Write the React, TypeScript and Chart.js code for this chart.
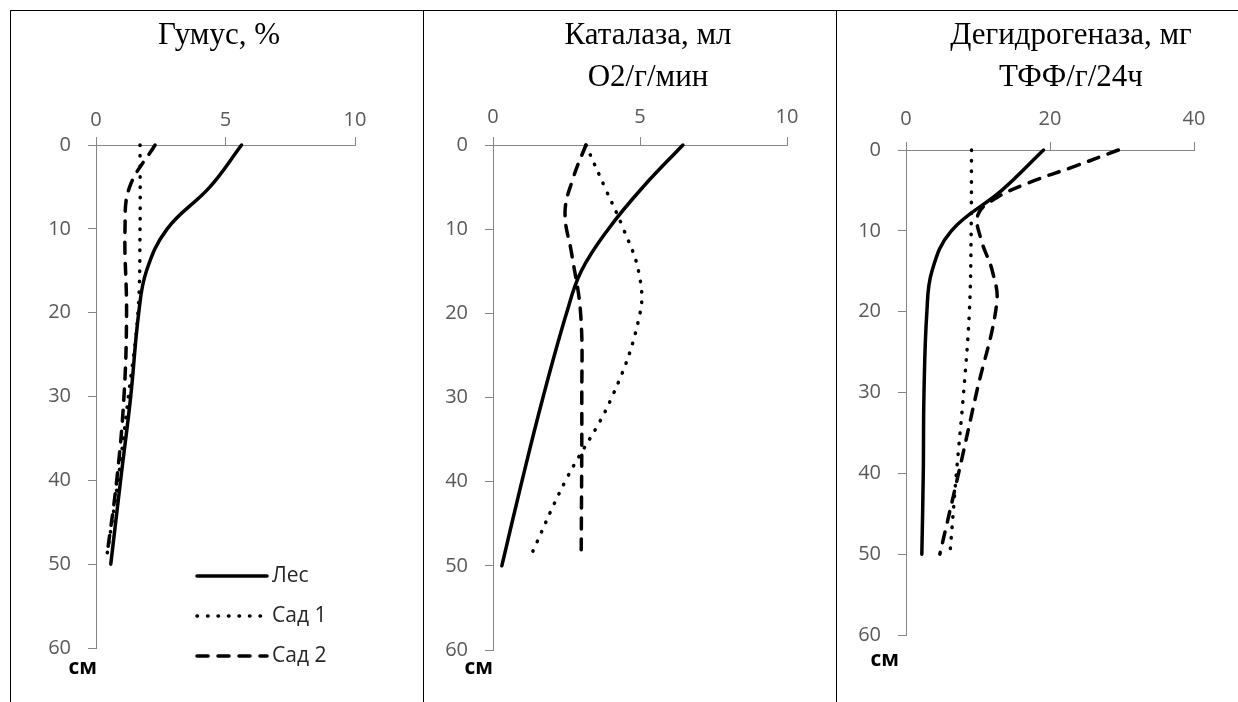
import React, { useEffect, useRef } from "react";
import { Chart, registerables } from "chart.js";

Chart.register(...registerables);

// ---------- Data ----------
const seriesNames = ["Лес", "Сад 1", "Сад 2"];
const depthTicks = [0, 10, 20, 30, 40, 50, 60];
const unitLabel = "см";

// Panel 1: Гумус, %
const humusTitle = ["Гумус, %"];
const humusXTicks = [0, 5, 10];
const humusForestDepth = [0, 5, 10, 15, 20, 30, 40, 50];
const humusForest = [5.62, 4.4, 2.75, 1.95, 1.65, 1.34, 0.95, 0.57];
const humusGarden1Depth = [0, 10, 20, 30, 40, 49];
const humusGarden1 = [1.7, 1.7, 1.62, 1.25, 0.85, 0.42];
const humusGarden2Depth = [0, 5, 10, 20, 30, 40, 49];
const humusGarden2 = [2.28, 1.3, 1.12, 1.18, 1.08, 0.8, 0.42];

// Panel 2: Каталаза, мл О2/г/мин
const catalaseTitle = ["Каталаза, мл", "О2/г/мин"];
const catalaseXTicks = [0, 5, 10];
const catalaseForestDepth = [0, 5, 10, 15, 20, 30, 40, 50];
const catalaseForest = [6.46, 5.1, 3.92, 3.0, 2.5, 1.7, 0.98, 0.3];
const catalaseGarden1Depth = [0, 5, 10, 15, 20, 30, 40, 49];
const catalaseGarden1 = [3.16, 3.8, 4.44, 4.95, 5.0, 4.04, 2.45, 1.26];
const catalaseGarden2Depth = [0, 4, 8, 13, 20, 30, 49];
const catalaseGarden2 = [3.16, 2.72, 2.45, 2.68, 2.98, 3.02, 3.0];

// Panel 3: Дегидрогеназа, мг ТФФ/г/24ч
const dehydTitle = ["Дегидрогеназа, мг", "ТФФ/г/24ч"];
const dehydXTicks = [0, 20, 40];
const dehydForestDepth = [0, 5, 10, 15, 20, 30, 40, 50];
const dehydForest = [19.1, 13.3, 6.3, 3.6, 2.9, 2.5, 2.4, 2.2];
const dehydGarden1Depth = [0, 10, 20, 30, 40, 50];
const dehydGarden1 = [9.1, 9.05, 8.8, 8.0, 7.0, 6.1];
const dehydGarden2Depth = [0, 2, 4, 6, 8, 11, 15, 19, 30, 40, 50];
const dehydGarden2 = [29.5, 23.5, 17.2, 12.4, 10.0, 10.4, 12.0, 12.6, 9.8, 7.3, 4.7];

// ---------- Styles ----------
const AXIS_COLOR = "#868686";
const TICK_COLOR = "#595959";
const SANS = "'Open Sans', 'DejaVu Sans', sans-serif";
const SERIF = "'Liberation Serif', 'Times New Roman', serif";
const DASHES: number[][] = [[], [0.5, 10], [11, 10]];
const PAGE_H = 702;
const Y_SCALE_W = 60;
const X_SCALE_H = 60;

type Series = { depth: number[]; values: number[] };

type PanelProps = {
  left: number;
  width: number;
  area: { left: number; right: number; top: number; bottom: number };
  xMax: number;
  xTicks: number[];
  xTickPad: number;
  series: Series[];
  unitOffset: [number, number];
  legend?: { dx0: number; dx1: number; dy: number; gap: number };
};

function Panel(props: PanelProps) {
  const ref = useRef<HTMLCanvasElement | null>(null);
  useEffect(() => {
    const canvas = ref.current;
    if (!canvas) return;
    const { left, width, area, xMax, xTicks, xTickPad, series, unitOffset, legend } = props;

    const unitPlugin = {
      id: "unitLabel",
      afterDraw(chart: any) {
        const ctx = chart.ctx;
        const ca = chart.chartArea;
        ctx.save();
        ctx.font = `bold 21px ${SANS}`;
        ctx.fillStyle = "#000";
        ctx.textAlign = "right";
        ctx.textBaseline = "middle";
        ctx.fillText(unitLabel, ca.left + unitOffset[0], ca.bottom + unitOffset[1]);
        ctx.restore();
      },
    };

    const legendPlugin = {
      id: "panelLegend",
      afterDraw(chart: any) {
        if (!legend) return;
        const ctx = chart.ctx;
        const ca = chart.chartArea;
        chart.data.datasets.forEach((ds: any, i: number) => {
          const y = ca.top + legend.dy + i * legend.gap;
          ctx.save();
          ctx.strokeStyle = ds.borderColor;
          ctx.lineWidth = ds.borderWidth;
          ctx.lineCap = "round";
          ctx.setLineDash(ds.borderDash || []);
          ctx.beginPath();
          ctx.moveTo(ca.left + legend.dx0, y);
          ctx.lineTo(ca.left + legend.dx1, y);
          ctx.stroke();
          ctx.setLineDash([]);
          ctx.font = `21px ${SANS}`;
          ctx.fillStyle = "#262626";
          ctx.textAlign = "left";
          ctx.textBaseline = "middle";
          ctx.fillText(ds.label, ca.left + legend.dx1 + 5, y);
          ctx.restore();
        });
      },
    };

    const chart = new Chart(canvas, {
      type: "scatter",
      data: {
        datasets: series.map((s, i) => ({
          label: seriesNames[i],
          data: s.depth.map((d, j) => ({ x: s.values[j], y: d })),
          showLine: true,
          borderColor: "#000",
          backgroundColor: "#000",
          borderWidth: 3.5,
          borderDash: DASHES[i],
          borderCapStyle: "round",
          borderJoinStyle: "round",
          pointRadius: 0,
          pointHoverRadius: 0,
          tension: 0.4,
          clip: false,
        })) as any,
      },
      options: {
        responsive: false,
        animation: false,
        events: [],
        devicePixelRatio: 1,
        layout: {
          padding: {
            left: area.left - left - Y_SCALE_W,
            top: area.top - X_SCALE_H,
            right: left + width - area.right,
            bottom: PAGE_H - area.bottom,
          },
        },
        plugins: {
          legend: { display: false },
          tooltip: { enabled: false },
          title: { display: false },
        },
        scales: {
          x: {
            type: "linear",
            position: "top",
            min: 0,
            max: xMax,
            afterBuildTicks: (scale: any) => {
              scale.ticks = xTicks.map((v) => ({ value: v }));
            },
            afterFit: (scale: any) => {
              scale.height = X_SCALE_H;
            },
            grid: {
              drawOnChartArea: false,
              drawTicks: true,
              tickLength: 8,
              color: AXIS_COLOR,
              lineWidth: 1,
            },
            border: { display: true, color: AXIS_COLOR, width: 1 },
            ticks: {
              color: TICK_COLOR,
              font: { family: SANS, size: 20 },
              padding: xTickPad,
              maxRotation: 0,
              autoSkip: false,
            },
          },
          y: {
            type: "linear",
            reverse: true,
            min: 0,
            max: 60,
            afterBuildTicks: (scale: any) => {
              scale.ticks = depthTicks.map((v) => ({ value: v }));
            },
            afterFit: (scale: any) => {
              scale.width = Y_SCALE_W;
            },
            grid: {
              drawOnChartArea: false,
              drawTicks: true,
              tickLength: 8,
              color: AXIS_COLOR,
              lineWidth: 1,
            },
            border: { display: true, color: AXIS_COLOR, width: 1 },
            ticks: {
              color: TICK_COLOR,
              font: { family: SANS, size: 20 },
              padding: 17,
              autoSkip: false,
            },
          },
        },
      } as any,
      plugins: [unitPlugin, legendPlugin],
    });
    return () => chart.destroy();
  }, []);

  return (
    <canvas
      ref={ref}
      width={props.width}
      height={PAGE_H}
      style={{
        position: "absolute",
        left: props.left,
        top: 0,
        width: props.width,
        height: PAGE_H,
        display: "block",
      }}
    />
  );
}

function Title({ lines, center }: { lines: string[]; center: number }) {
  return (
    <div
      style={{
        position: "absolute",
        left: center - 180,
        top: 13,
        width: 360,
        textAlign: "center",
        fontFamily: SERIF,
        fontSize: 31,
        lineHeight: "42px",
        color: "#000",
        whiteSpace: "nowrap",
      }}
    >
      {lines.map((l, i) => (
        <div key={i}>{l}</div>
      ))}
    </div>
  );
}

const line = (l: number, t: number, w: number, h: number) => (
  <div
    style={{
      position: "absolute",
      left: l,
      top: t,
      width: w,
      height: h,
      background: "#000",
    }}
  />
);

export default function App() {
  return (
    <div
      style={{
        position: "absolute",
        left: 0,
        top: 0,
        width: 1238,
        height: PAGE_H,
        background: "#fff",
        overflow: "hidden",
      }}
    >
      <Panel
        left={11}
        width={412}
        area={{ left: 96, right: 355, top: 145, bottom: 648 }}
        xMax={10}
        xTicks={humusXTicks}
        xTickPad={5}
        unitOffset={[1, 20]}
        series={[
          { depth: humusForestDepth, values: humusForest },
          { depth: humusGarden1Depth, values: humusGarden1 },
          { depth: humusGarden2Depth, values: humusGarden2 },
        ]}
        legend={{ dx0: 101, dx1: 171, dy: 431, gap: 40 }}
      />
      <Panel
        left={424}
        width={412}
        area={{ left: 493, right: 787, top: 145, bottom: 650 }}
        xMax={10}
        xTicks={catalaseXTicks}
        xTickPad={8}
        unitOffset={[0, 18]}
        series={[
          { depth: catalaseForestDepth, values: catalaseForest },
          { depth: catalaseGarden1Depth, values: catalaseGarden1 },
          { depth: catalaseGarden2Depth, values: catalaseGarden2 },
        ]}
      />
      <Panel
        left={837}
        width={401}
        area={{ left: 906, right: 1194, top: 150, bottom: 635 }}
        xMax={40}
        xTicks={dehydXTicks}
        xTickPad={11}
        unitOffset={[-7, 25]}
        series={[
          { depth: dehydForestDepth, values: dehydForest },
          { depth: dehydGarden1Depth, values: dehydGarden1 },
          { depth: dehydGarden2Depth, values: dehydGarden2 },
        ]}
      />
      <Title lines={humusTitle} center={219} />
      <Title lines={catalaseTitle} center={648} />
      <Title lines={dehydTitle} center={1071} />
      {line(10, 10, 1228, 1)}
      {line(10, 10, 1, 692)}
      {line(423, 10, 1, 692)}
      {line(836, 10, 1, 692)}
    </div>
  );
}
